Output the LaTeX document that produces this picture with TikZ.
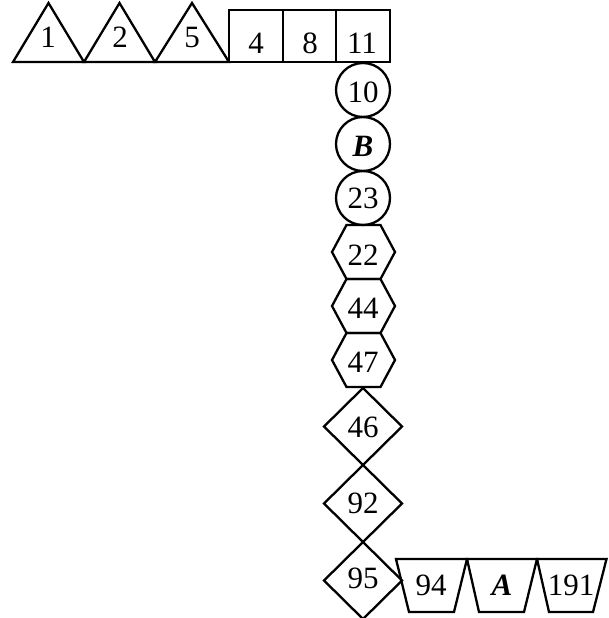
\documentclass[tikz,border=0pt]{standalone}
\usepackage{fontspec}
\setmainfont{Liberation Serif}
\begin{document}
\begin{tikzpicture}[x=1pt,y=-1pt,
  shp/.style={draw=black, line width=2.3pt, line join=miter},
  lbl/.style={font=\fontsize{31}{36}\selectfont, inner sep=0pt, anchor=base}]
\useasboundingbox (0,0) rectangle (608,618);
% triangles
\draw[shp] (13,62) -- (48.5,3) -- (84,62) -- cycle;
\draw[shp] (84,62) -- (119.5,3) -- (155,62) -- cycle;
\draw[shp] (155,62) -- (192,3) -- (229,62) -- cycle;
% squares
\draw[shp] (229,10) rectangle (283,62);
\draw[shp] (283,10) rectangle (336,62);
\draw[shp] (336,10) rectangle (390,62);
% circles
\draw[shp] (363,90) circle[radius=27];
\draw[shp] (363,144) circle[radius=27];
\draw[shp] (363,198) circle[radius=27];
% hexagons
\foreach \cy in {252,306,360}{
  \draw[shp] (332,\cy) -- (346.5,\cy-27) -- (380.5,\cy-27) -- (395,\cy) -- (380.5,\cy+27) -- (346.5,\cy+27) -- cycle;
}
% diamonds
\foreach \cy in {426.5,503.5,580.5}{
  \draw[shp] (363,\cy-38.5) -- (402,\cy) -- (363,\cy+38.5) -- (324,\cy) -- cycle;
}
% trapezoids
\draw[shp] (396,559) -- (467,559) -- (454,612) -- (409,612) -- cycle;
\draw[shp] (467,559) -- (537,559) -- (524,612) -- (479,612) -- cycle;
\draw[shp] (537,559) -- (606.5,559) -- (593,612) -- (549,612) -- cycle;
% labels
\node[lbl] (t1) at (48,48) {1};
\node[lbl] (t2) at (120,48) {2};
\node[lbl] (t5) at (192,48) {5};
\node[lbl] (s4) at (256,53) {4};
\node[lbl] (s8) at (310,53) {8};
\node[lbl] (s11) at (362,53) {11};
\node[lbl] (c10) at (363,102) {10};
\node[lbl] (cB) at (363,156) {\textbf{\textit{B}}};
\node[lbl] (c23) at (363,208) {23};
\node[lbl] (h22) at (363,265) {22};
\node[lbl] (h44) at (363,318) {44};
\node[lbl] (h47) at (363,372) {47};
\node[lbl] (d46) at (363,437) {46};
\node[lbl] (d92) at (363,513) {92};
\node[lbl] (d95) at (363,588) {95};
\node[lbl] (p94) at (431,595) {94};
\node[lbl] (pA) at (502,595) {\textbf{\textit{A}}};
\node[lbl] (p191) at (571,595) {191};
\end{tikzpicture}
\end{document}
